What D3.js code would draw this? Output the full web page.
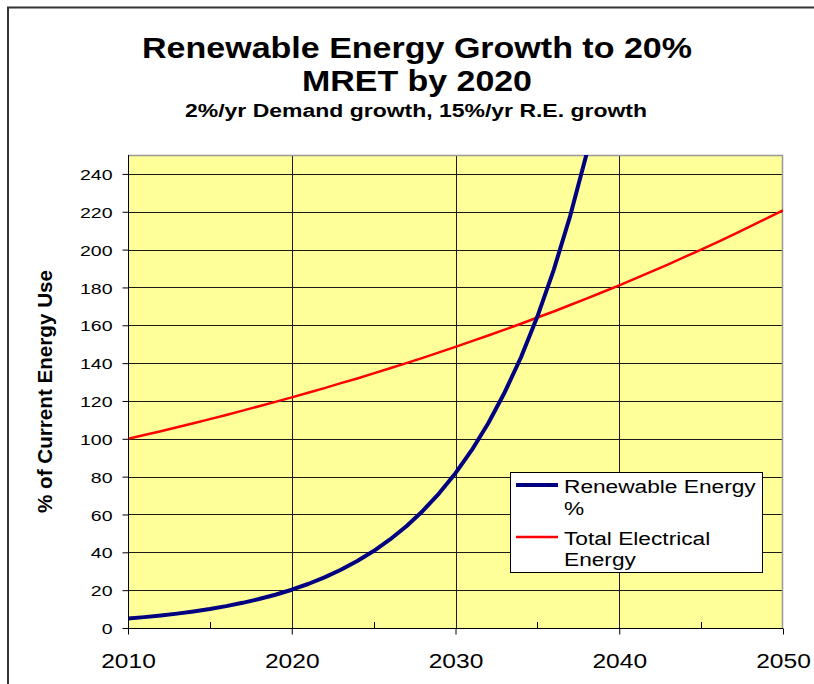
<!DOCTYPE html>
<html>
<head>
<meta charset="utf-8">
<script src="https://cdn.jsdelivr.net/npm/d3@7/dist/d3.min.js"></script>
<style>
  html, body { margin: 0; padding: 0; background: #fff; }
  svg { display: block; }
  text { font-family: "Liberation Sans", Arial, sans-serif; fill: #000; }
</style>
</head>
<body>
<svg id="chart" width="814" height="684"></svg>
<script>
// Yearly projection, 2010-2050
const years = [2010, 2011, 2012, 2013, 2014, 2015, 2016, 2017, 2018, 2019,
               2020, 2021, 2022, 2023, 2024, 2025, 2026, 2027, 2028, 2029,
               2030, 2031, 2032, 2033, 2034, 2035, 2036, 2037, 2038, 2039,
               2040, 2041, 2042, 2043, 2044, 2045, 2046, 2047, 2048, 2049, 2050];

// Renewable energy share (% of current energy use)
const renewable = [5.0, 5.75, 6.61, 7.6, 8.75, 10.06, 11.57, 13.3, 15.3, 17.59,
                   20.23, 23.26, 26.75, 30.76, 35.38, 40.69, 46.79, 53.81, 61.88, 71.16,
                   81.83, 94.11, 108.2, 124.5, 143.1, 164.6, 189.3, 217.7, 250.4, 287.9,
                   331.1];

// Total electrical energy demand (% of current energy use)
const total = [100, 102, 104, 106.1, 108.2, 110.4, 112.6, 114.9, 117.2, 119.5,
               121.9, 124.3, 126.8, 129.4, 131.9, 134.6, 137.3, 140.0, 142.8, 145.7,
               148.6, 151.6, 154.6, 157.7, 160.8, 164.1, 167.3, 170.7, 174.1, 177.6,
               181.1, 184.8, 188.5, 192.2, 196.1, 200.0, 204.0, 208.1, 212.3, 216.5,
               220.8];

const yTicks = [0, 20, 40, 60, 80, 100, 120, 140, 160, 180, 200, 220, 240];
const xTicks = [2010, 2020, 2030, 2040, 2050];
const xMinorTicks = [2015, 2025, 2035, 2045];

const seriesNames = ["Renewable Energy", "Total Electrical"];

const svg = d3.select("#chart");
const SX = 1.26; // horizontal text stretch

function stretch(sel, factor) {
  sel.each(function () {
    const w = this.getComputedTextLength();
    d3.select(this).attr("textLength", w * factor).attr("lengthAdjust", "spacingAndGlyphs");
  });
}

// Outer chart frame
svg.append("rect")
  .attr("x", 8).attr("y", 7.5)
  .attr("width", 900).attr("height", 900)
  .attr("fill", "none").attr("stroke", "#333").attr("stroke-width", 2);

const plot = { left: 128, right: 783, top: 155, bottom: 628 };

const x = d3.scaleLinear().domain([2010, 2050]).range([plot.left, plot.right]);
const y = d3.scaleLinear().domain([0, 250]).range([plot.bottom, plot.top]);

// Plot background
svg.append("rect")
  .attr("x", plot.left).attr("y", plot.top)
  .attr("width", plot.right - plot.left).attr("height", plot.bottom - plot.top)
  .attr("fill", "#FFFF99");

// Grid lines
svg.append("g")
  .selectAll("line")
  .data(yTicks.filter(d => d > 0))
  .join("line")
  .attr("x1", plot.left).attr("x2", plot.right)
  .attr("y1", d => Math.round(y(d)) + 0.5).attr("y2", d => Math.round(y(d)) + 0.5)
  .attr("stroke", "#1a1a1a").attr("stroke-width", 1);

svg.append("g")
  .selectAll("line")
  .data(xTicks.filter(d => d > 2010 && d < 2050))
  .join("line")
  .attr("x1", d => Math.round(x(d)) + 0.5).attr("x2", d => Math.round(x(d)) + 0.5)
  .attr("y1", plot.top).attr("y2", plot.bottom)
  .attr("stroke", "#1a1a1a").attr("stroke-width", 1);

// Plot area border (top and right)
svg.append("path")
  .attr("d", `M${plot.left},${plot.top + 0.5}H${plot.right - 0.5}V${plot.bottom}`)
  .attr("fill", "none").attr("stroke", "#999").attr("stroke-width", 1.5);

// Series lines, clipped to the plot area
svg.append("clipPath").attr("id", "plotClip")
  .append("rect")
  .attr("x", plot.left).attr("y", plot.top)
  .attr("width", plot.right - plot.left).attr("height", plot.bottom - plot.top);

const line = d3.line().x((d, i) => x(years[i])).y(d => y(d));

const lines = svg.append("g").attr("clip-path", "url(#plotClip)");
lines.append("path")
  .attr("d", line(total))
  .attr("fill", "none").attr("stroke", "#FF0000").attr("stroke-width", 2.5)
  .attr("stroke-linejoin", "round");
lines.append("path")
  .attr("d", line(renewable))
  .attr("fill", "none").attr("stroke", "#000080").attr("stroke-width", 4)
  .attr("stroke-linejoin", "round");

// Y axis
const yAxis = svg.append("g")
  .attr("transform", `translate(${plot.left + 0.5},0)`)
  .call(d3.axisLeft(y).tickValues(yTicks).tickSize(6).tickPadding(10).tickFormat(d3.format("d")));
yAxis.select(".domain").attr("stroke", "#000").attr("d", `M0,${plot.top}V${plot.bottom}`);
yAxis.selectAll(".tick line").attr("stroke", "#000");
yAxis.selectAll(".tick text")
  .style("font-family", "'Liberation Sans', Arial, sans-serif")
  .style("font-size", "15.5px").attr("fill", "#000").attr("dy", "0.36em");
stretch(yAxis.selectAll(".tick text"), SX);

// X axis
const xAxis = svg.append("g")
  .attr("transform", `translate(0,${plot.bottom + 0.5})`)
  .call(d3.axisBottom(x).tickValues(xTicks).tickSize(6).tickPadding(20).tickFormat(d3.format("d")));
xAxis.select(".domain").attr("stroke", "#000").attr("d", `M${plot.left},0H${plot.right}`);
xAxis.selectAll(".tick line").attr("stroke", "#000");
xAxis.selectAll(".tick text")
  .style("font-family", "'Liberation Sans', Arial, sans-serif")
  .style("font-size", "19.5px").attr("fill", "#000");
stretch(xAxis.selectAll(".tick text"), SX);

// Minor x ticks, pointing into the plot
svg.append("g")
  .selectAll("line")
  .data(xMinorTicks)
  .join("line")
  .attr("x1", d => Math.round(x(d)) + 0.5).attr("x2", d => Math.round(x(d)) + 0.5)
  .attr("y1", plot.bottom - 6).attr("y2", plot.bottom)
  .attr("stroke", "#000");

// Titles
const titles = svg.append("g").style("font-weight", "bold").attr("text-anchor", "middle");
titles.append("text")
  .attr("x", 417).attr("y", 58)
  .attr("textLength", 550).attr("lengthAdjust", "spacingAndGlyphs")
  .style("font-size", "29px")
  .text("Renewable Energy Growth to 20%");
titles.append("text")
  .attr("x", 417).attr("y", 91)
  .attr("textLength", 230).attr("lengthAdjust", "spacingAndGlyphs")
  .style("font-size", "29px")
  .text("MRET by 2020");
titles.append("text")
  .attr("x", 416).attr("y", 117)
  .attr("textLength", 462).attr("lengthAdjust", "spacingAndGlyphs")
  .style("font-size", "18px")
  .text("2%/yr Demand growth, 15%/yr R.E. growth");

// Y axis title
svg.append("text")
  .attr("transform", "translate(52,391.5) rotate(-90)")
  .attr("text-anchor", "middle")
  .attr("textLength", 243).attr("lengthAdjust", "spacingAndGlyphs")
  .style("font-size", "20px").style("font-weight", "bold")
  .text("% of Current Energy Use");

// Legend
const legend = svg.append("g");
legend.append("rect")
  .attr("x", 510.5).attr("y", 472.5).attr("width", 252).attr("height", 100)
  .attr("fill", "#fff").attr("stroke", "#000").attr("stroke-width", 1);

legend.append("line")
  .attr("x1", 516).attr("x2", 558).attr("y1", 485).attr("y2", 485)
  .attr("stroke", "#000080").attr("stroke-width", 4);
legend.append("line")
  .attr("x1", 516).attr("x2", 558).attr("y1", 537).attr("y2", 537)
  .attr("stroke", "#FF0000").attr("stroke-width", 2.5);

const legendText = legend.append("g").style("font-size", "18px");
legendText.append("text").attr("x", 564).attr("y", 493).text(seriesNames[0]);
legendText.append("text").attr("x", 564).attr("y", 515).text("%");
legendText.append("text").attr("x", 564).attr("y", 545).text(seriesNames[1]);
legendText.append("text").attr("x", 564).attr("y", 566).text("Energy");
stretch(legendText.selectAll("text"), SX);
</script>
</body>
</html>
